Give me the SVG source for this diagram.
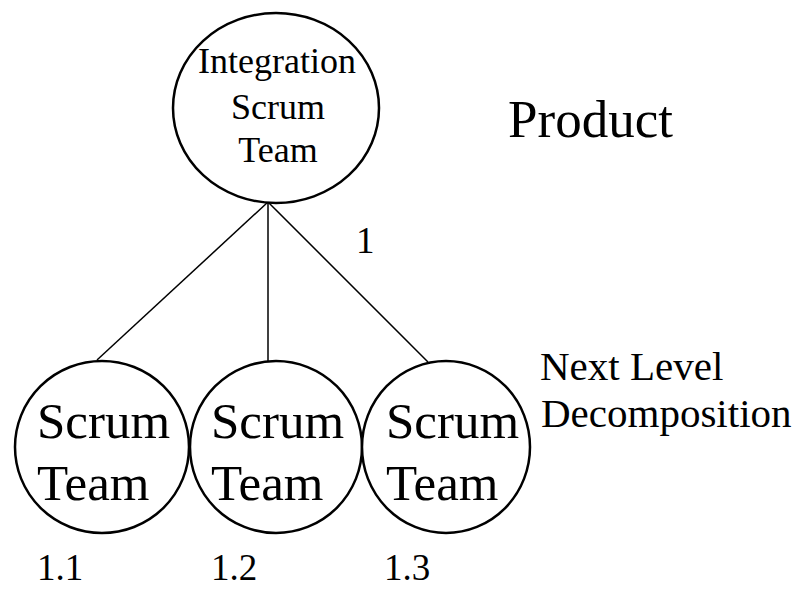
<svg xmlns="http://www.w3.org/2000/svg" width="801" height="590" viewBox="0 0 801 590">
  <style>
    .node { fill: #ffffff; stroke: #000000; stroke-width: 2.5; }
    .link { stroke: #000000; stroke-width: 1.5; fill: none; }
    text { font-family: "Liberation Serif", "Times New Roman", serif; fill: #000000; }
    .top { font-size: 36px; text-anchor: middle; }
    .team { font-size: 51px; }
    .label { font-size: 37px; }
    .big { font-size: 53px; }
    .side { font-size: 41px; }
  </style>
  <rect width="801" height="590" fill="#ffffff"/>

  <!-- connectors from the integration team to each scrum team -->
  <g id="connectors">
    <line class="link" x1="268" y1="202" x2="97" y2="360"/>
    <line class="link" x1="268" y1="202" x2="268" y2="361"/>
    <line class="link" x1="268" y1="202" x2="428" y2="362"/>
  </g>

  <g id="integration-team">
    <ellipse class="node" cx="276" cy="108" rx="103" ry="95"/>
    <text class="top" x="277" y="73">Integration</text>
    <text class="top" x="278" y="119">Scrum</text>
    <text class="top" x="278" y="162">Team</text>
  </g>

  <g id="scrum-team-1">
    <ellipse class="node" cx="102" cy="447" rx="87" ry="86"/>
    <text class="team" x="37" y="438">Scrum</text>
    <text class="team" x="37" y="500">Team</text>
  </g>

  <g id="scrum-team-2">
    <ellipse class="node" cx="276" cy="447" rx="86" ry="86"/>
    <text class="team" x="211" y="438">Scrum</text>
    <text class="team" x="211" y="500">Team</text>
  </g>

  <g id="scrum-team-3">
    <ellipse class="node" cx="446" cy="447" rx="84" ry="86"/>
    <text class="team" x="386" y="438">Scrum</text>
    <text class="team" x="386" y="500">Team</text>
  </g>

  <g id="labels">
    <text class="big" x="508" y="137">Product</text>
    <text class="label" x="356" y="253">1</text>
    <text class="side" x="540" y="380">Next Level</text>
    <text class="side" x="541" y="427">Decomposition</text>
    <text class="label" x="37" y="580">1.1</text>
    <text class="label" x="211" y="580">1.2</text>
    <text class="label" x="384" y="580">1.3</text>
  </g>
</svg>
